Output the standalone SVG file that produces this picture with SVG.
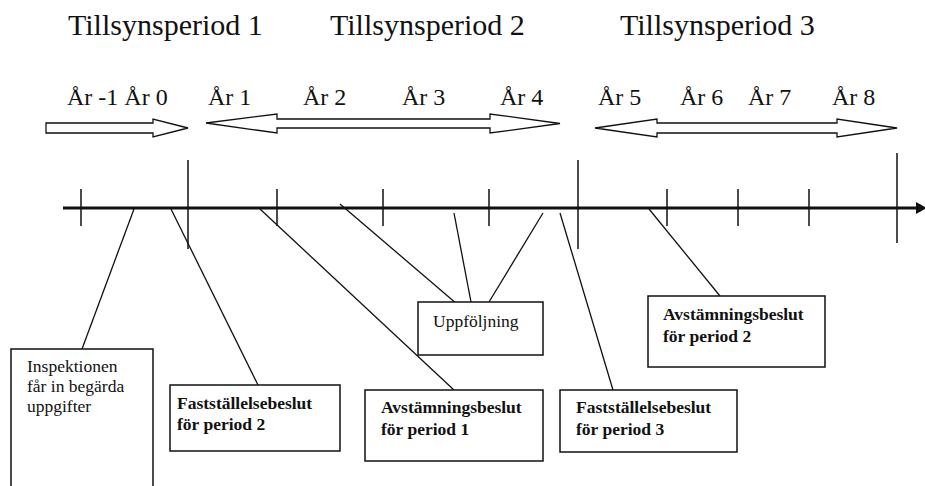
<svg xmlns="http://www.w3.org/2000/svg" width="925" height="486" viewBox="0 0 925 486">
  <style>
    text { font-family: "Liberation Serif", "Tinos", "DejaVu Serif", "Noto Serif", "Times New Roman", serif; fill: #111; }
    .title { font-size: 30px; }
    .year { font-size: 24px; }
    .note { font-size: 17.5px; }
    .noteb { font-size: 17.5px; font-weight: bold; }
    .box { fill: #fff; stroke: #111; stroke-width: 1.5; }
    .span { fill: #fff; stroke: #111; stroke-width: 1.3; stroke-linejoin: miter; }
    .tick { stroke: #111; stroke-width: 1.5; }
    .link { stroke: #111; stroke-width: 1.3; fill: none; }
  </style>

  <rect width="925" height="486" fill="#fff"/>

  <!-- period headings -->
  <g id="headings">
    <text class="title" x="68" y="35">Tillsynsperiod 1</text>
    <text class="title" x="330" y="35">Tillsynsperiod 2</text>
    <text class="title" x="620" y="35">Tillsynsperiod 3</text>
  </g>

  <!-- year labels -->
  <g id="years">
    <text class="year" x="67" y="105">År -1 År 0</text>
    <text class="year" x="208" y="105">År 1</text>
    <text class="year" x="303" y="105">År 2</text>
    <text class="year" x="402" y="105">År 3</text>
    <text class="year" x="500" y="105">År 4</text>
    <text class="year" x="598" y="105">År 5</text>
    <text class="year" x="680" y="105">År 6</text>
    <text class="year" x="748" y="105">År 7</text>
    <text class="year" x="832" y="105">År 8</text>
  </g>

  <!-- period span arrows -->
  <g id="spans">
    <polygon class="span" points="46,123 153,123 153,119 188,128 153,137 153,133 46,133"/>
    <polygon class="span" points="206,123 277,114 277,119 490,119 490,114 560,123.5 490,133 490,128 277,128 277,133"/>
    <polygon class="span" points="595,128 657,119 657,123 837,123 837,119 897,128 837,137 837,133 657,133 657,137"/>
  </g>

  <!-- time axis with ticks -->
  <g id="axis">
    <line x1="63" y1="208" x2="918" y2="208" stroke="#111" stroke-width="3"/>
    <polygon points="916,202 927,208 916,214" fill="#111"/>
    <line class="tick" x1="81" y1="189" x2="81" y2="226"/>
    <line class="tick" x1="277" y1="189" x2="277" y2="226"/>
    <line class="tick" x1="383" y1="189" x2="383" y2="226"/>
    <line class="tick" x1="489" y1="189" x2="489" y2="226"/>
    <line class="tick" x1="667" y1="189" x2="667" y2="226"/>
    <line class="tick" x1="738" y1="189" x2="738" y2="226"/>
    <line class="tick" x1="809" y1="189" x2="809" y2="226"/>
    <line class="tick" x1="188" y1="160" x2="188" y2="249"/>
    <line class="tick" x1="578" y1="160" x2="578" y2="249"/>
    <line class="tick" x1="897" y1="153" x2="897" y2="243"/>
  </g>

  <!-- connectors from the axis to the notes -->
  <g id="connectors">
    <line class="link" x1="134" y1="209" x2="82" y2="349"/>
    <line class="link" x1="171" y1="209" x2="258" y2="385"/>
    <line class="link" x1="260" y1="209" x2="454" y2="390"/>
    <line class="link" x1="340" y1="204" x2="464" y2="310"/>
    <line class="link" x1="454" y1="213" x2="471" y2="302"/>
    <line class="link" x1="543" y1="213" x2="489" y2="302"/>
    <line class="link" x1="560" y1="213" x2="613" y2="390"/>
    <line class="link" x1="649" y1="209" x2="720" y2="296"/>
  </g>

  <!-- notes -->
  <g id="node-inspektionen">
    <rect class="box" x="11" y="349" width="142" height="145"/>
    <text class="note" x="27" y="372">Inspektionen</text>
    <text class="note" x="27" y="392">får in begärda</text>
    <text class="note" x="27" y="412">uppgifter</text>
  </g>

  <g id="node-faststallelse-2">
    <rect class="box" x="170" y="385" width="170" height="66"/>
    <text class="noteb" x="177" y="409">Fastställelsebeslut</text>
    <text class="noteb" x="177" y="430">för period 2</text>
  </g>

  <g id="node-uppfoljning">
    <rect class="box" x="418" y="302" width="125" height="53"/>
    <text class="note" x="433" y="327">Uppföljning</text>
  </g>

  <g id="node-avstamning-1">
    <rect class="box" x="365" y="390" width="178" height="71"/>
    <text class="noteb" x="381" y="413">Avstämningsbeslut</text>
    <text class="noteb" x="381" y="435">för period 1</text>
  </g>

  <g id="node-faststallelse-3">
    <rect class="box" x="560" y="390" width="177" height="62"/>
    <text class="noteb" x="576" y="413">Fastställelsebeslut</text>
    <text class="noteb" x="576" y="435">för period 3</text>
  </g>

  <g id="node-avstamning-2">
    <rect class="box" x="648" y="296" width="177" height="71"/>
    <text class="noteb" x="663" y="320">Avstämningsbeslut</text>
    <text class="noteb" x="663" y="342">för period 2</text>
  </g>
</svg>
